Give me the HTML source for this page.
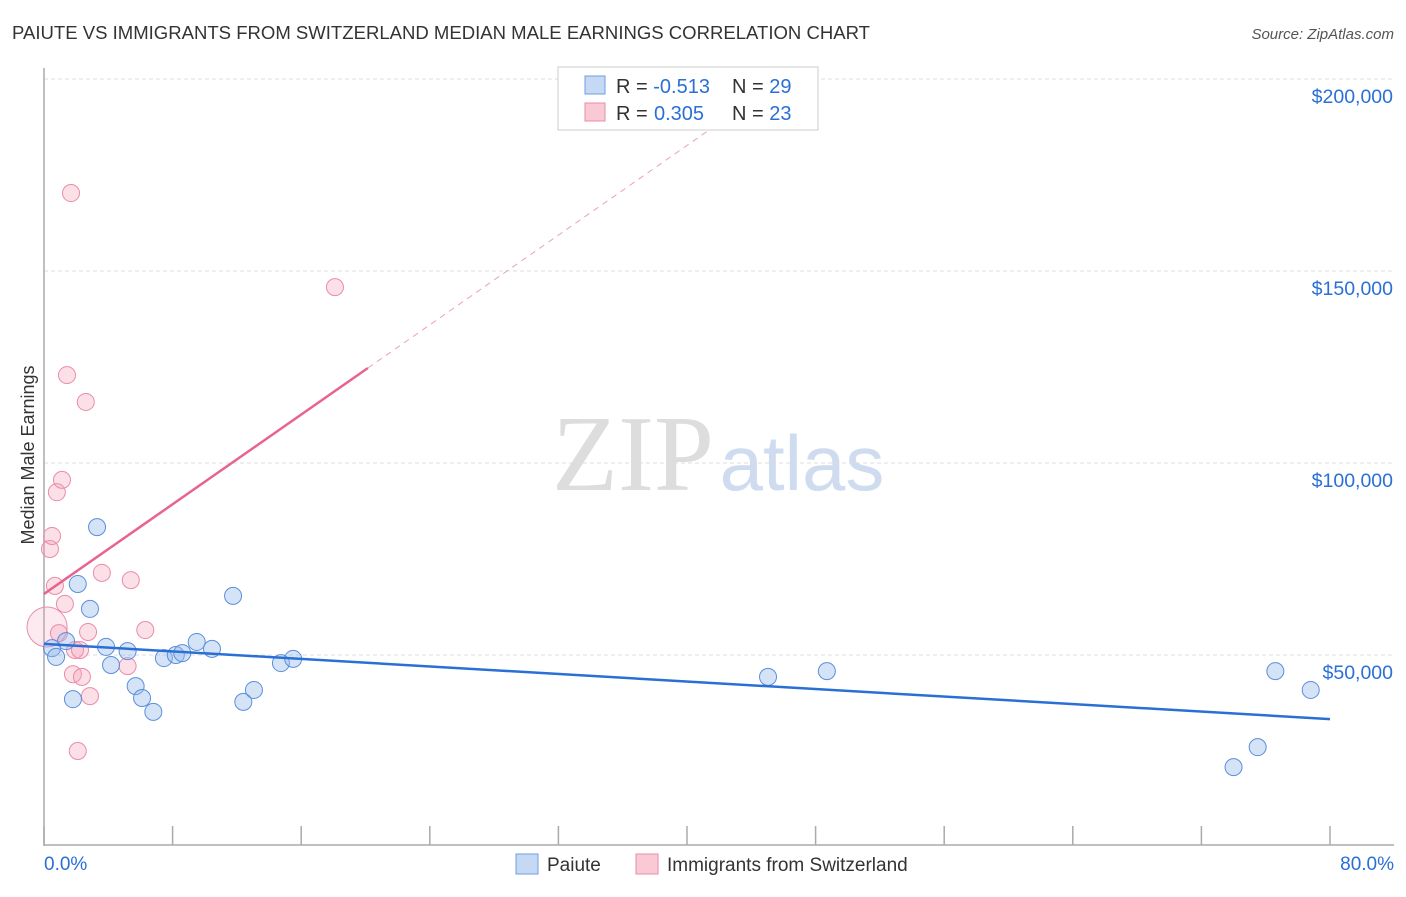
<!DOCTYPE html>
<html><head><meta charset="utf-8"><style>
body{margin:0;background:#fff;font-family:"Liberation Sans",sans-serif}
</style></head><body>
<svg width="1406" height="892" xmlns="http://www.w3.org/2000/svg" id="chart">
<text x="12" y="39" font-size="18" fill="#333" textLength="858" lengthAdjust="spacingAndGlyphs">PAIUTE VS IMMIGRANTS FROM SWITZERLAND MEDIAN MALE EARNINGS CORRELATION CHART</text>
<text x="1394" y="39" font-size="15" fill="#555" font-style="italic" text-anchor="end">Source: ZipAtlas.com</text>
<text x="0" y="0" transform="translate(34,455) rotate(-90)" font-size="18" fill="#333" text-anchor="middle">Median Male Earnings</text>
<g><text x="633" y="490" font-size="108" fill="#ddd" font-family="Liberation Serif,serif" text-anchor="middle">ZIP</text><text x="802" y="490" font-size="78" fill="#cfdcf0" text-anchor="middle">atlas</text></g>
<g id="grid"></g><g id="marks"></g>
<g>
<rect x="558" y="67" width="260" height="63" fill="#fff" stroke="#ccc"/>
<rect x="585" y="76" width="20" height="18" fill="#c5d9f5" stroke="#6f9ee0"/>
<rect x="585" y="103" width="20" height="18" fill="#f9c9d6" stroke="#ea8ca8"/>
<text x="616" y="93" font-size="20" fill="#333">R = <tspan fill="#2a6fd6">-0.513</tspan>  <tspan x="732">N = </tspan><tspan fill="#2a6fd6">29</tspan></text>
<text x="616" y="120" font-size="20" fill="#333">R = <tspan fill="#2a6fd6" x="654">0.305</tspan><tspan x="732">N = </tspan><tspan fill="#2a6fd6">23</tspan></text>
</g>
<g>
<rect x="516" y="854" width="22" height="20" fill="#c5d9f5" stroke="#6f9ee0"/>
<text x="547" y="871" font-size="19" fill="#333">Paiute</text>
<rect x="636" y="854" width="22" height="20" fill="#f9c9d6" stroke="#ea8ca8"/>
<text x="667" y="871" font-size="19" fill="#333">Immigrants from Switzerland</text>
</g>
<text x="44" y="870" font-size="19" fill="#2a6fd6">0.0%</text>
<text x="1394" y="870" font-size="19" fill="#2a6fd6" text-anchor="end">80.0%</text>
</svg>
<script>
const yTicks=[50000,100000,150000,200000];
const yTickLabels=["$50,000","$100,000","$150,000","$200,000"];
const xTicks=[0,8,16,24,32,40,48,56,64,72,80];
const paiuteX=[0.5,0.75,1.37,1.8,2.1,2.86,3.3,3.86,4.17,5.2,5.7,6.1,6.8,7.46,8.2,8.6,9.5,10.45,11.76,12.4,13.06,14.74,15.5,45.04,48.7,74.0,75.5,76.6,78.8];
const paiuteY=[51800,49500,53600,38500,68500,62000,83300,52100,47400,51000,41900,38800,35200,49200,50000,50500,53400,51600,65400,37800,40900,47900,49000,44300,45800,20800,26000,45800,40900];
const swissX=[0.19,0.37,0.5,0.68,0.8,1.12,1.3,1.43,1.68,1.8,0.93,1.93,2.24,2.36,2.6,2.74,2.86,2.1,3.6,5.2,5.4,6.3,18.1];
const swissY=[57300,77600,81000,68000,92400,95600,63300,122900,170300,45000,55700,51300,51300,44300,115900,56000,39300,25000,71400,47100,69500,56500,145800];
const swissR=[20,8.5,8.5,8.5,8.5,8.5,8.5,8.5,8.5,8.5,8.5,8.5,8.5,8.5,8.5,8.5,8.5,8.5,8.5,8.5,8.5,8.5,8.5];
const paiuteTrend=[52900,33300];
const swissTrend=[65900,2920];
const xs=p=>44+p/80*1286, ys=v=>847-v*192/50000;
const NS="http://www.w3.org/2000/svg";
function mk(t,a,parent){const e=document.createElementNS(NS,t);for(const k in a)e.setAttribute(k,a[k]);parent.appendChild(e);return e;}
const grid=document.getElementById('grid'),marks=document.getElementById('marks');
yTicks.forEach((v,i)=>{
 const l=mk('line',{x1:44,x2:1394,y1:ys(v),y2:ys(v),stroke:'#ddd','stroke-dasharray':'4,3'},grid);
 
 
 const t=mk('text',{x:1393,y:ys(v)+24,'font-size':19.5,fill:'#2a6fd6','text-anchor':'end'},grid);
 t.textContent=yTickLabels[i];
 
 
});
const ax=mk('line',{x1:44,x2:44,y1:68,y2:846,stroke:'#aaa','stroke-width':1.5},grid);


const bx=mk('line',{x1:44,x2:1394,y1:845,y2:845,stroke:'#aaa','stroke-width':1.5},grid);


xTicks.forEach(p=>{const t=mk('line',{x1:xs(p),x2:xs(p),y1:826,y2:845,stroke:'#aaa','stroke-width':1.5},grid);
 
 });
swissX.forEach((p,i)=>{const c=mk('circle',{cx:xs(p),cy:ys(swissY[i]),r:swissR[i],fill:'rgba(245,160,185,'+(swissR[i]>10?0.22:0.32)+')',stroke:'#ea8ca8','stroke-width':1},marks);
 
 });
paiuteX.forEach((p,i)=>{const c=mk('circle',{cx:xs(p),cy:ys(paiuteY[i]),r:8.5,fill:'rgba(150,185,235,0.4)',stroke:'#5b8fdb','stroke-width':1},marks);
 
 });
const pt=mk('line',{x1:xs(0),y1:ys(paiuteTrend[0]),x2:xs(80),y2:ys(paiuteTrend[1]),stroke:'#2a6fd6','stroke-width':2.5},marks);


const sv=p=>swissTrend[0]+swissTrend[1]*p;
const st=mk('line',{x1:xs(0),y1:ys(sv(0)),x2:xs(20.15),y2:ys(sv(20.15)),stroke:'#e8648c','stroke-width':2.5},marks);


const sd=mk('line',{x1:xs(20.15),y1:ys(sv(20.15)),x2:xs(42),y2:ys(sv(42)),stroke:'#eba0b5','stroke-width':1,'stroke-dasharray':'6,5'},marks);


</script>
</body></html>
